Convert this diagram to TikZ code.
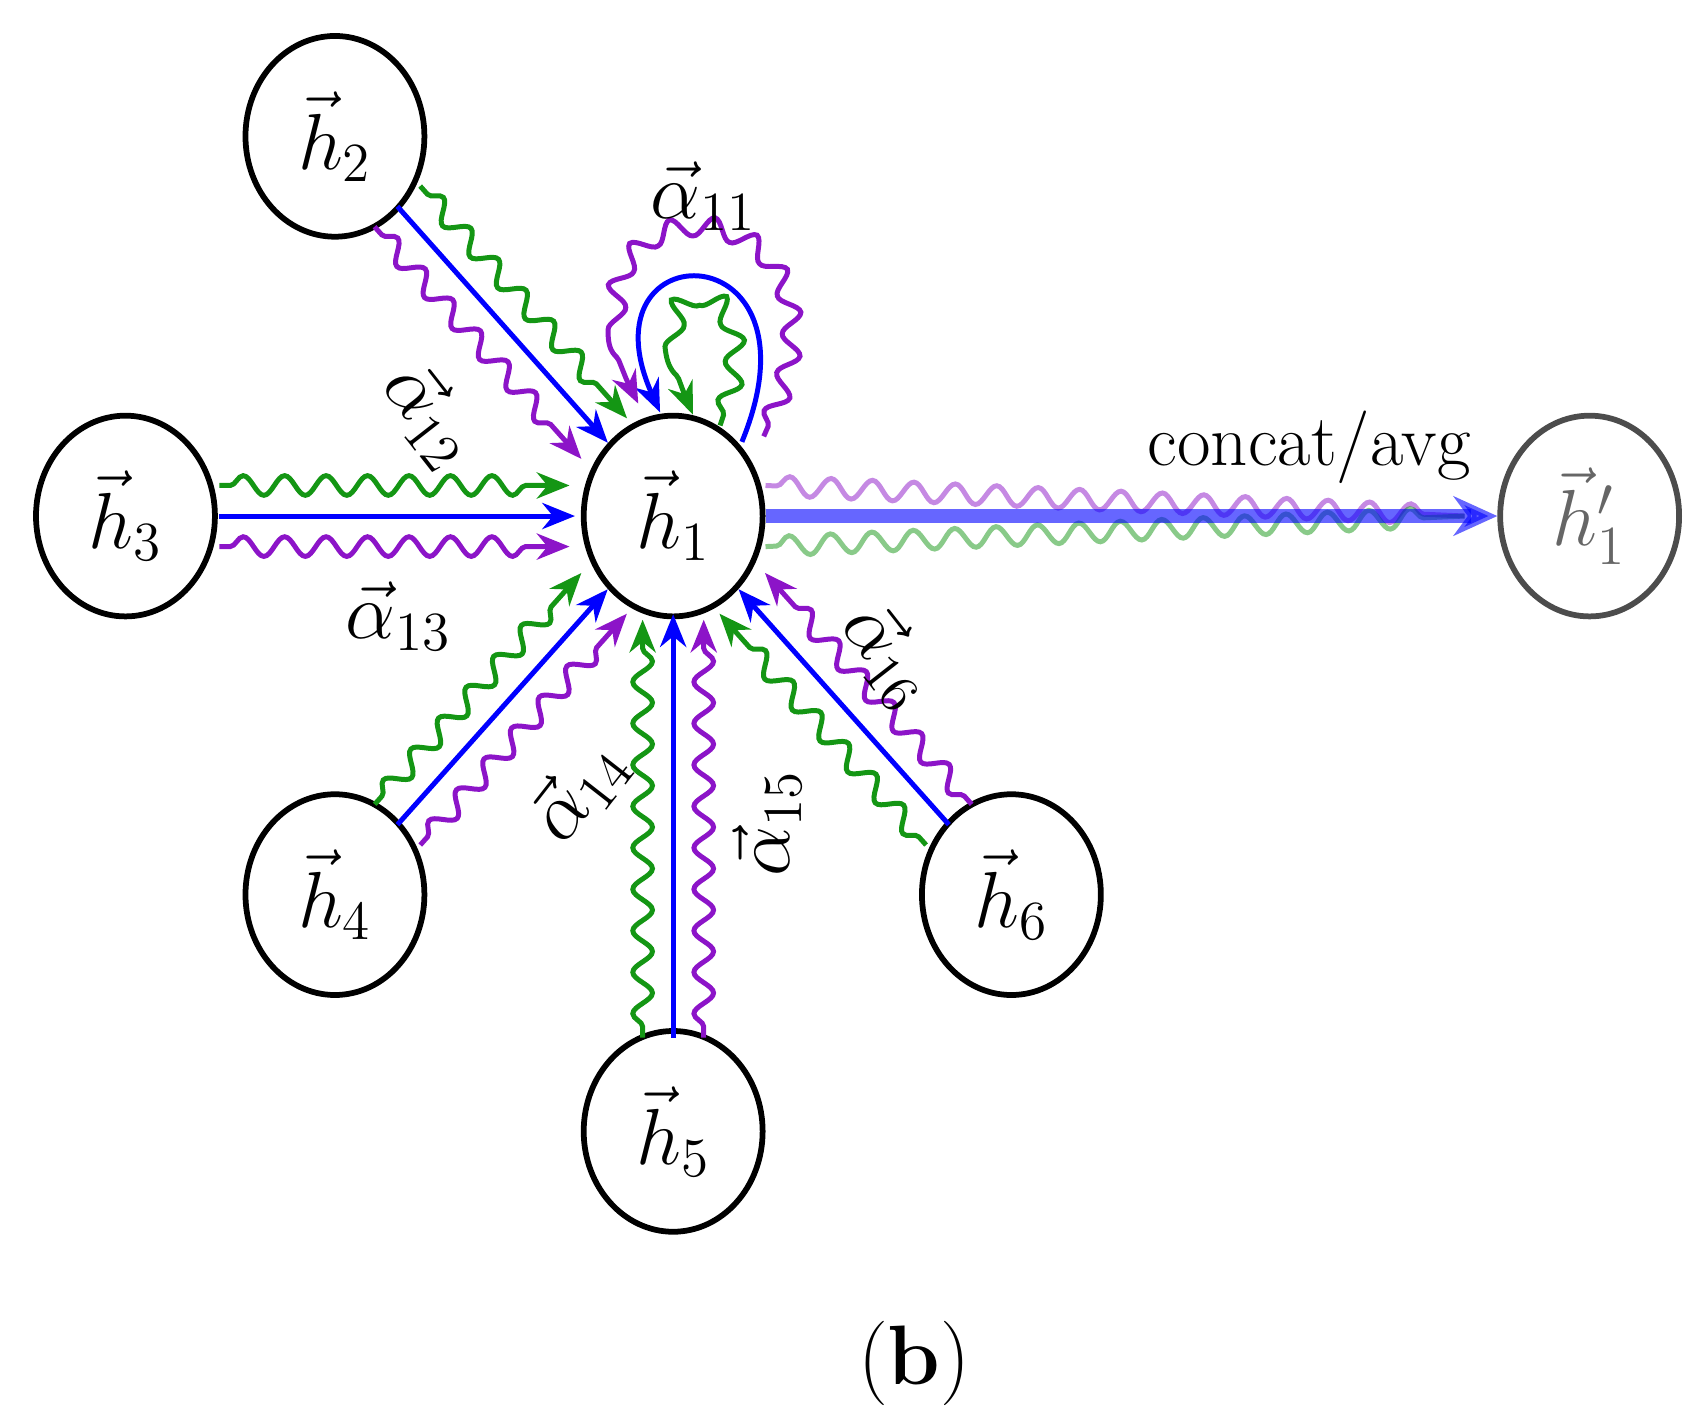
\documentclass[tikz,border=0pt]{standalone}
\usetikzlibrary{decorations.pathmorphing,calc,arrows.meta,shapes.geometric}
\definecolor{gr}{RGB}{20,150,20}
\definecolor{pu}{RGB}{140,20,200}
\tikzset{
  nd/.style={ellipse,draw,line width=1.5pt,minimum width=1.64cm,minimum height=1.84cm,inner sep=0pt,font=\fontsize{21}{24}\selectfont},
  bl/.style={blue,line width=1.3pt,-{Stealth[length=3mm,width=2.4mm]}},
  wv/.style={line width=1.3pt,-{Stealth[length=3mm,width=2.4mm]},decorate,decoration={snake,amplitude=.9mm,segment length=3.8mm,post length=2.5mm,pre length=1mm}},
  lb/.style={font=\fontsize{20}{22}\selectfont},
}
\newcommand{\nbedge}[2]{%
  \draw[bl] ($(#1)!0.86cm!(#2)$) -- ($(#2)!0.9cm!(#1)$);
  \draw[wv,gr] ($($(#1)!0.86cm!(#2)$)!0.28cm!90:(#2)$) -- ($($(#2)!0.95cm!(#1)$)!0.28cm!-90:(#1)$);
  \draw[wv,pu] ($($(#1)!0.86cm!(#2)$)!0.28cm!-90:(#2)$) -- ($($(#2)!0.95cm!(#1)$)!0.28cm!90:(#1)$);
}
\begin{document}
\begin{tikzpicture}
\useasboundingbox (0,0) rectangle (15.6,13.0);
\node[nd] (h1) at (6.17,8.27) {$\vec h_1$};
\node[nd] (h2) at (3.07,11.75) {$\vec h_2$};
\node[nd] (h3) at (1.15,8.27) {$\vec h_3$};
\node[nd] (h4) at (3.07,4.80) {$\vec h_4$};
\node[nd] (h5) at (6.17,2.63) {$\vec h_5$};
\node[nd] (h6) at (9.27,4.80) {$\vec h_6$};
\node[nd,draw=black!70,text opacity=.6] (h7) at (14.57,8.27) {$\vec h_1'$};
\nbedge{h2}{h1}
\nbedge{h3}{h1}
\nbedge{h4}{h1}
\nbedge{h5}{h1}
\nbedge{h6}{h1}
% self loops
\draw[bl] (6.80,8.95) .. controls (7.6,10.9) and (5.3,10.9) .. (6.05,9.22);
\draw[wv,gr,decoration={snake,amplitude=.9mm,segment length=3.8mm,post length=2.5mm}] (6.6,9.1) .. controls (7.1,10.5) and (5.7,10.6) .. (6.35,9.2);
\draw[wv,pu,decoration={snake,amplitude=.9mm,segment length=3.8mm,post length=2.5mm}] (7.0,9.0) .. controls (8.1,11.4) and (4.7,11.4) .. (5.85,9.3);
% output
\draw[wv,pu,opacity=.5,-] ($(h1.east)+(0,0.28)$) -- ($(h7.west)+(-0.3,0.0)$);
\draw[wv,gr,opacity=.5,-] ($(h1.east)+(0,-0.28)$) -- ($(h7.west)+(-0.3,0.0)$);
\draw[blue,opacity=.6,line width=3.5pt,-{Stealth[length=4mm,width=3.6mm]}] (h1.east) -- (h7.west);
% labels
\node[lb] (a11) at (6.45,11.2) {$\vec\alpha_{11}$};
\node[lb,rotate=-52] (a12) at (3.95,9.2) {$\vec\alpha_{12}$};
\node[lb] (a13) at (3.65,7.35) {$\vec\alpha_{13}$};
\node[lb,rotate=52] (a14) at (5.3,5.75) {$\vec\alpha_{14}$};
\node[lb,rotate=90] (a15) at (7.03,5.45) {$\vec\alpha_{15}$};
\node[lb,rotate=-52] (a16) at (8.15,7.0) {$\vec\alpha_{16}$};
\node[font=\fontsize{19}{22}\selectfont] (ca) at (12.0,8.9) {concat/avg};
\node[font=\fontsize{22}{24}\selectfont] (b) at (8.38,0.5) {(\textbf{b})};
\end{tikzpicture}
\end{document}
